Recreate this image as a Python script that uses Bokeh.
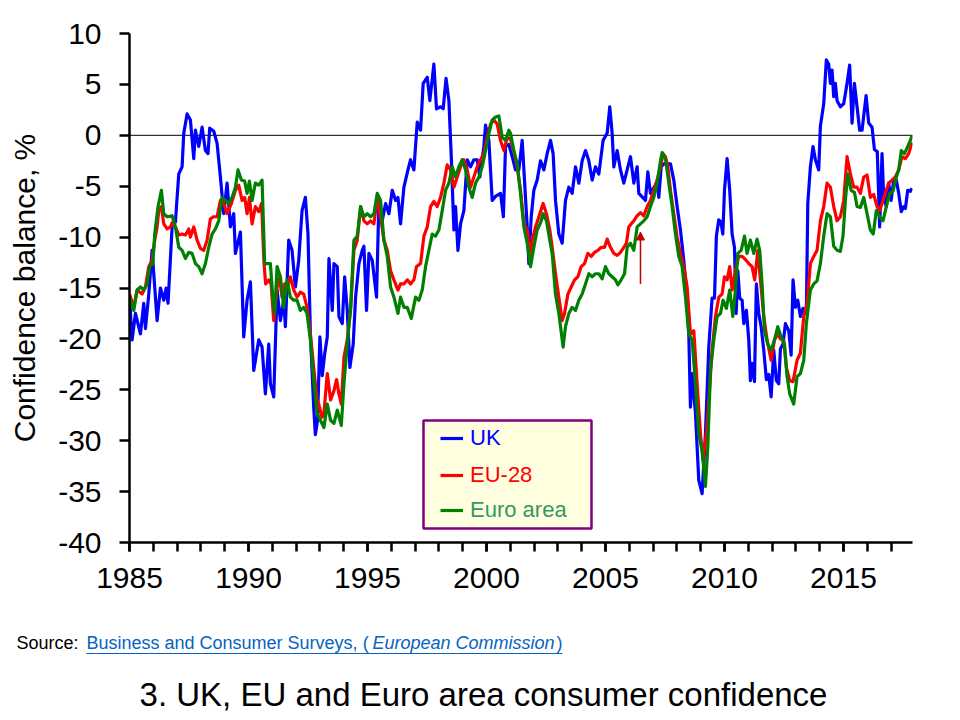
from bokeh.plotting import figure
from bokeh.layouts import column
from bokeh.models import (Range1d, FixedTicker, Span, Label, Legend, LegendItem,
                          BoxAnnotation, Arrow, NormalHead, ColumnDataSource)
from bokeh.embed import file_html
from bokeh.resources import INLINE

# ---------------- data (decimal year, balance %) ----------------
uk = [(1985.0, -15.9), (1985.11, -20.1), (1985.25, -17.5), (1985.46, -19.5), (1985.6, -16.5),
      (1985.67, -19.0), (1985.81, -15.6), (1985.95, -11.3), (1986.16, -18.2), (1986.3, -15.0),
      (1986.44, -16.2), (1986.54, -15.0), (1986.62, -16.5), (1986.79, -9.0), (1986.93, -8.5),
      (1987.07, -3.8), (1987.21, -3.1), (1987.28, 0.2), (1987.42, 2.1), (1987.56, 1.5),
      (1987.7, -2.3), (1987.77, 0.5), (1987.91, -1.1), (1988.05, 0.8), (1988.19, -1.5),
      (1988.3, -1.8), (1988.37, 0.7), (1988.54, 0.4), (1988.68, -0.8), (1988.82, -4.1),
      (1988.96, -7.7), (1989.1, -4.7), (1989.24, -9.0), (1989.38, -7.7), (1989.45, -11.6),
      (1989.66, -9.5), (1989.8, -19.8), (1989.94, -16.2), (1990.08, -14.4), (1990.22, -23.1),
      (1990.43, -20.1), (1990.57, -20.8), (1990.71, -25.4), (1990.85, -20.5), (1990.92, -24.4),
      (1991.06, -25.7), (1991.2, -15.2), (1991.34, -18.2), (1991.48, -16.2), (1991.55, -18.8),
      (1991.69, -10.3), (1991.83, -11.3), (1991.97, -14.9), (1992.11, -12.3), (1992.25, -7.4),
      (1992.39, -6.1), (1992.5, -9.7), (1992.6, -19.5), (1992.74, -26.7), (1992.81, -29.4),
      (1992.9, -28.0), (1993.0, -19.8), (1993.1, -23.6), (1993.2, -21.5), (1993.31, -19.8),
      (1993.38, -12.1), (1993.52, -17.2), (1993.59, -12.6), (1993.73, -12.9), (1993.8, -17.8),
      (1993.94, -18.5), (1994.04, -13.9), (1994.15, -17.2), (1994.26, -22.8), (1994.4, -20.5),
      (1994.5, -15.9), (1994.64, -12.6), (1994.78, -11.3), (1994.85, -10.9), (1994.96, -17.2),
      (1995.06, -11.6), (1995.2, -12.3), (1995.38, -15.9), (1995.48, -6.4), (1995.62, -8.4),
      (1995.76, -6.7), (1995.9, -7.7), (1996.04, -5.4), (1996.18, -6.4), (1996.28, -6.1),
      (1996.39, -8.7), (1996.53, -5.1), (1996.7, -3.4), (1996.81, -2.4), (1996.95, -3.4),
      (1997.09, 1.3), (1997.23, 0.5), (1997.34, 5.1), (1997.51, 5.7), (1997.62, 3.4),
      (1997.79, 7.0), (1997.9, 2.6), (1998.07, 2.8), (1998.18, 2.6), (1998.3, 5.6),
      (1998.42, 3.4), (1998.52, -2.1), (1998.63, -9.3), (1998.7, -7.0), (1998.8, -11.3),
      (1998.91, -8.7), (1999.05, -7.4), (1999.19, -2.4), (1999.33, -3.1), (1999.47, -2.4),
      (1999.61, -2.4), (1999.72, -4.1), (1999.89, -1.1), (1999.96, 1.0), (2000.1, -0.5),
      (2000.24, -6.4), (2000.38, -6.0), (2000.59, -5.7), (2000.71, -8.0), (2000.8, -1.1),
      (2000.94, -0.9), (2001.08, -2.1), (2001.22, -3.4), (2001.36, -3.4), (2001.5, -0.5),
      (2001.71, -9.0), (2001.78, -12.6), (2001.88, -8.0), (2001.99, -5.4), (2002.13, -4.4),
      (2002.27, -2.5), (2002.41, -3.4), (2002.55, -1.8), (2002.69, -0.5), (2002.8, -1.8),
      (2002.9, -6.4), (2003.04, -9.7), (2003.18, -10.6), (2003.32, -6.4), (2003.46, -5.1),
      (2003.6, -5.7), (2003.74, -3.1), (2003.88, -4.7), (2004.02, -2.5), (2004.16, -1.5),
      (2004.3, -2.5), (2004.44, -4.4), (2004.58, -3.1), (2004.72, -3.8), (2004.9, -0.5),
      (2005.07, 0.2), (2005.18, 2.8), (2005.28, 0.2), (2005.35, -3.1), (2005.49, -1.5),
      (2005.63, -3.4), (2005.77, -4.7), (2006.05, -2.1), (2006.19, -4.7), (2006.33, -3.1),
      (2006.4, -5.7), (2006.68, -6.4), (2006.78, -3.6), (2006.89, -5.7), (2007.17, -4.6),
      (2007.24, -6.1), (2007.34, -3.1), (2007.45, -2.8), (2007.73, -2.8), (2007.87, -4.4),
      (2008.01, -7.0), (2008.15, -9.3), (2008.29, -12.3), (2008.4, -15.2), (2008.5, -19.5),
      (2008.57, -26.7), (2008.64, -23.4), (2008.78, -27.3), (2008.92, -33.9), (2009.06, -35.2),
      (2009.2, -29.3), (2009.34, -20.8), (2009.48, -16.0), (2009.58, -16.0), (2009.66, -9.9),
      (2009.76, -8.3), (2009.85, -8.5), (2009.93, -9.7), (2010.0, -5.4), (2010.11, -2.3),
      (2010.22, -5.4), (2010.32, -9.7), (2010.42, -11.0), (2010.49, -17.5), (2010.56, -13.3),
      (2010.64, -16.0), (2010.74, -16.2), (2010.81, -18.5), (2010.92, -17.2), (2011.02, -20.1),
      (2011.09, -24.1), (2011.16, -22.4), (2011.26, -24.2), (2011.34, -14.6), (2011.44, -17.5),
      (2011.54, -18.8), (2011.65, -21.1), (2011.76, -24.0), (2011.86, -23.5), (2011.96, -25.7),
      (2012.07, -21.1), (2012.18, -24.1), (2012.28, -24.4), (2012.35, -21.0), (2012.46, -20.5),
      (2012.56, -18.5), (2012.7, -19.2), (2012.8, -21.6), (2012.88, -14.2), (2012.98, -16.9),
      (2013.08, -16.2), (2013.19, -17.8), (2013.3, -17.0), (2013.44, -17.5), (2013.5, -6.7),
      (2013.61, -3.1), (2013.72, -1.1), (2013.82, -2.4), (2013.96, -3.4), (2014.03, 0.9),
      (2014.17, 3.1), (2014.28, 7.4), (2014.38, 7.0), (2014.45, 5.1), (2014.52, 6.4),
      (2014.59, 3.8), (2014.66, 5.1), (2014.73, 3.4), (2014.87, 2.8), (2015.01, 3.1),
      (2015.15, 5.1), (2015.26, 6.9), (2015.36, 1.2), (2015.46, 5.1), (2015.57, 2.8),
      (2015.68, 0.5), (2015.78, 0.5), (2015.88, 2.5), (2015.95, 3.9), (2016.06, 1.2),
      (2016.2, 0.8), (2016.3, -1.4), (2016.42, -1.6), (2016.52, -9.0), (2016.62, -1.8),
      (2016.69, -6.1), (2016.8, -7.0), (2016.9, -4.7), (2017.0, -6.4), (2017.11, -4.4),
      (2017.22, -4.4), (2017.32, -5.7), (2017.43, -7.5), (2017.53, -7.0), (2017.6, -7.2),
      (2017.7, -5.4), (2017.81, -5.5), (2017.88, -5.2)]

eu28 = [(1985.0, -15.6), (1985.18, -16.9), (1985.32, -15.2), (1985.53, -15.6), (1985.67, -14.9),
        (1985.81, -12.9), (1985.95, -12.3), (1986.06, -10.3), (1986.16, -9.0), (1986.23, -7.4),
        (1986.34, -7.0), (1986.44, -8.7), (1986.58, -9.2), (1986.72, -9.0), (1986.79, -8.6),
        (1986.93, -9.0), (1987.07, -9.8), (1987.21, -9.7), (1987.35, -9.8), (1987.49, -9.2),
        (1987.56, -10.0), (1987.7, -9.0), (1987.84, -10.3), (1987.98, -11.1), (1988.12, -11.3),
        (1988.26, -10.3), (1988.4, -8.2), (1988.54, -8.0), (1988.68, -8.0), (1988.82, -6.4),
        (1988.96, -6.7), (1989.1, -7.7), (1989.28, -6.7), (1989.45, -5.4), (1989.59, -4.9),
        (1989.73, -6.4), (1989.84, -6.1), (1989.94, -7.7), (1990.04, -6.1), (1990.15, -8.7),
        (1990.29, -7.0), (1990.43, -7.5), (1990.55, -6.7), (1990.65, -12.5), (1990.72, -14.6),
        (1990.85, -14.2), (1990.95, -14.6), (1991.06, -18.2), (1991.2, -14.9), (1991.3, -14.0),
        (1991.41, -15.9), (1991.52, -14.6), (1991.62, -15.0), (1991.76, -13.9), (1991.9, -15.2),
        (1992.04, -15.9), (1992.18, -15.4), (1992.32, -15.6), (1992.46, -16.9), (1992.6, -19.5),
        (1992.74, -22.8), (1992.88, -26.0), (1992.95, -26.4), (1993.09, -27.7), (1993.17, -27.3),
        (1993.31, -23.4), (1993.45, -26.0), (1993.59, -25.1), (1993.7, -24.0), (1993.8, -25.4),
        (1993.9, -26.4), (1994.01, -21.8), (1994.15, -20.1), (1994.29, -17.2), (1994.43, -11.3),
        (1994.57, -10.3), (1994.71, -7.0), (1994.85, -8.4), (1994.99, -8.7), (1995.13, -8.4),
        (1995.27, -8.7), (1995.41, -6.1), (1995.55, -8.0), (1995.69, -10.3), (1995.83, -11.3),
        (1995.97, -13.3), (1996.11, -14.2), (1996.28, -15.2), (1996.39, -14.6), (1996.53, -14.6),
        (1996.67, -14.2), (1996.81, -14.6), (1996.95, -14.2), (1997.06, -12.9), (1997.23, -12.6),
        (1997.37, -9.9), (1997.51, -9.0), (1997.65, -7.0), (1997.79, -6.5), (1997.93, -7.0),
        (1998.07, -6.1), (1998.21, -4.7), (1998.35, -2.9), (1998.49, -3.4), (1998.63, -5.1),
        (1998.77, -4.1), (1998.91, -3.1), (1999.05, -2.4), (1999.19, -3.4), (1999.33, -5.1),
        (1999.47, -4.1), (1999.61, -3.1), (1999.75, -2.4), (1999.89, -1.8), (2000.03, -0.2),
        (2000.17, 1.1), (2000.31, 1.5), (2000.45, 1.1), (2000.59, -0.5), (2000.73, -1.5),
        (2000.87, -0.2), (2001.01, -0.4), (2001.15, -1.6), (2001.29, -3.1), (2001.43, -5.4),
        (2001.57, -8.7), (2001.71, -9.3), (2001.82, -11.9), (2001.92, -10.3), (2002.06, -9.0),
        (2002.2, -8.0), (2002.38, -6.7), (2002.52, -7.7), (2002.66, -9.3), (2002.76, -11.0),
        (2002.9, -13.6), (2003.04, -15.9), (2003.18, -18.2), (2003.28, -17.5), (2003.42, -15.6),
        (2003.56, -14.9), (2003.7, -14.2), (2003.84, -13.9), (2003.98, -12.9), (2004.12, -12.6),
        (2004.26, -11.6), (2004.4, -11.9), (2004.54, -11.5), (2004.68, -11.3), (2004.82, -11.0),
        (2004.96, -11.0), (2005.07, -10.2), (2005.21, -11.0), (2005.35, -11.6), (2005.49, -11.8),
        (2005.63, -11.5), (2005.77, -11.0), (2005.88, -10.6), (2005.98, -9.0), (2006.08, -8.7),
        (2006.19, -8.4), (2006.33, -7.9), (2006.47, -7.6), (2006.61, -7.9), (2006.75, -7.0),
        (2006.89, -6.4), (2007.03, -5.4), (2007.17, -4.4), (2007.31, -3.1), (2007.42, -1.8),
        (2007.52, -2.1), (2007.62, -3.1), (2007.73, -5.4), (2007.87, -7.7), (2008.01, -10.0),
        (2008.15, -11.6), (2008.29, -12.9), (2008.43, -14.9), (2008.57, -19.5), (2008.71, -19.2),
        (2008.85, -24.4), (2008.99, -29.3), (2009.1, -31.9), (2009.24, -29.3), (2009.38, -24.7),
        (2009.48, -21.1), (2009.62, -17.8), (2009.76, -15.9), (2009.9, -15.6), (2010.0, -13.9),
        (2010.11, -14.2), (2010.22, -12.9), (2010.32, -15.2), (2010.46, -13.3), (2010.6, -11.9),
        (2010.74, -11.9), (2010.88, -12.2), (2011.02, -12.6), (2011.16, -12.9), (2011.27, -14.2),
        (2011.4, -11.3), (2011.51, -14.2), (2011.65, -17.8), (2011.79, -20.1), (2011.96, -22.1),
        (2012.1, -20.1), (2012.24, -19.5), (2012.35, -20.0), (2012.49, -20.1), (2012.6, -22.8),
        (2012.74, -24.1), (2012.88, -24.2), (2013.05, -22.1), (2013.19, -21.4), (2013.33, -17.8),
        (2013.47, -16.5), (2013.61, -12.6), (2013.75, -11.9), (2013.89, -11.3), (2014.03, -8.4),
        (2014.17, -7.0), (2014.31, -4.7), (2014.45, -5.1), (2014.59, -7.0), (2014.73, -8.4),
        (2014.87, -8.0), (2015.01, -6.4), (2015.15, -2.1), (2015.29, -3.8), (2015.43, -5.1),
        (2015.57, -5.1), (2015.71, -5.7), (2015.85, -4.1), (2015.99, -3.9), (2016.13, -6.1),
        (2016.27, -5.8), (2016.41, -7.0), (2016.52, -7.4), (2016.62, -6.7), (2016.76, -5.7),
        (2016.9, -4.7), (2017.04, -4.4), (2017.18, -4.1), (2017.32, -3.4), (2017.46, -2.1),
        (2017.6, -2.3), (2017.74, -1.8), (2017.88, -0.7)]

euro_area = [(1985.0, -15.9), (1985.18, -17.2), (1985.32, -15.2), (1985.46, -14.9), (1985.6, -15.2),
             (1985.74, -14.6), (1985.84, -12.9), (1985.98, -12.6), (1986.06, -9.7), (1986.2, -7.0),
             (1986.34, -5.4), (1986.44, -7.7), (1986.58, -8.0), (1986.79, -7.9), (1986.93, -9.0),
             (1987.07, -11.0), (1987.21, -11.3), (1987.35, -12.1), (1987.49, -11.5), (1987.63, -11.6),
             (1987.77, -12.6), (1987.91, -12.9), (1988.05, -13.6), (1988.19, -12.6), (1988.33, -11.0),
             (1988.47, -9.7), (1988.61, -9.2), (1988.75, -8.4), (1988.89, -6.1), (1989.03, -6.4),
             (1989.17, -6.7), (1989.31, -6.1), (1989.45, -5.1), (1989.56, -3.4), (1989.7, -4.4),
             (1989.84, -4.5), (1989.94, -5.7), (1990.04, -4.5), (1990.15, -6.4), (1990.29, -4.7),
             (1990.43, -4.9), (1990.57, -4.4), (1990.68, -12.6), (1990.78, -12.6), (1990.92, -12.6),
             (1991.02, -15.9), (1991.1, -17.5), (1991.2, -12.9), (1991.34, -13.9), (1991.48, -16.9),
             (1991.62, -14.2), (1991.76, -15.9), (1991.9, -16.2), (1992.04, -16.2), (1992.18, -17.2),
             (1992.32, -16.9), (1992.46, -17.5), (1992.6, -20.1), (1992.74, -24.0), (1992.88, -27.3),
             (1993.02, -28.0), (1993.17, -28.7), (1993.31, -26.4), (1993.45, -28.0), (1993.59, -28.3),
             (1993.73, -27.0), (1993.9, -28.5), (1994.01, -24.4), (1994.15, -20.5), (1994.29, -16.9),
             (1994.43, -10.3), (1994.57, -9.9), (1994.71, -7.0), (1994.85, -8.0), (1994.99, -7.7),
             (1995.13, -8.0), (1995.27, -7.7), (1995.41, -5.7), (1995.55, -6.4), (1995.69, -10.3),
             (1995.83, -11.9), (1995.97, -14.9), (1996.11, -15.9), (1996.28, -17.5), (1996.39, -15.9),
             (1996.53, -16.9), (1996.67, -16.9), (1996.84, -18.0), (1997.02, -15.9), (1997.16, -16.2),
             (1997.3, -15.2), (1997.44, -12.9), (1997.58, -11.3), (1997.72, -9.7), (1997.86, -9.9),
             (1998.0, -9.3), (1998.14, -7.4), (1998.28, -5.4), (1998.42, -4.7), (1998.56, -3.1),
             (1998.7, -4.1), (1998.84, -3.1), (1998.98, -2.4), (1999.12, -3.4), (1999.26, -5.1),
             (1999.4, -6.1), (1999.54, -4.7), (1999.68, -4.1), (1999.82, -3.1), (1999.96, -1.5),
             (2000.1, 0.2), (2000.24, 1.5), (2000.38, 1.8), (2000.52, 1.9), (2000.66, -0.2),
             (2000.8, -0.5), (2000.94, 0.5), (2001.01, 0.2), (2001.15, -1.5), (2001.29, -2.8),
             (2001.43, -5.7), (2001.57, -9.0), (2001.71, -10.6), (2001.85, -12.9), (2001.99, -11.0),
             (2002.13, -9.3), (2002.27, -8.6), (2002.38, -7.7), (2002.52, -8.4), (2002.66, -10.3),
             (2002.76, -11.6), (2002.9, -15.6), (2003.04, -17.5), (2003.22, -20.8), (2003.32, -18.8),
             (2003.46, -17.5), (2003.6, -16.9), (2003.74, -17.2), (2003.88, -16.2), (2004.02, -15.6),
             (2004.16, -14.6), (2004.3, -13.6), (2004.44, -13.9), (2004.58, -13.6), (2004.72, -13.6),
             (2004.86, -14.1), (2005.0, -12.9), (2005.14, -13.6), (2005.28, -13.9), (2005.42, -14.2),
             (2005.52, -14.7), (2005.66, -14.2), (2005.8, -13.6), (2005.91, -11.0), (2006.05, -10.6),
             (2006.19, -11.3), (2006.33, -9.0), (2006.47, -8.7), (2006.61, -8.4), (2006.75, -8.0),
             (2006.89, -7.0), (2007.03, -6.1), (2007.17, -4.7), (2007.31, -2.5), (2007.38, -1.7),
             (2007.52, -2.3), (2007.66, -4.7), (2007.8, -7.0), (2007.94, -9.7), (2008.08, -11.9),
             (2008.22, -12.9), (2008.36, -15.9), (2008.5, -19.5), (2008.64, -20.1), (2008.78, -24.4),
             (2008.92, -29.3), (2009.06, -31.0), (2009.2, -34.5), (2009.3, -30.6), (2009.41, -23.1),
             (2009.55, -20.1), (2009.69, -17.8), (2009.83, -17.5), (2009.94, -16.2), (2010.08, -17.0),
             (2010.22, -15.2), (2010.35, -17.8), (2010.46, -15.2), (2010.56, -11.6), (2010.7, -11.3),
             (2010.84, -9.9), (2010.95, -11.6), (2011.09, -10.3), (2011.23, -11.6), (2011.37, -10.2),
             (2011.48, -11.3), (2011.58, -14.6), (2011.68, -19.2), (2011.82, -20.5), (2011.96, -21.1),
             (2012.1, -20.1), (2012.24, -18.8), (2012.38, -19.8), (2012.52, -20.5), (2012.63, -23.7),
             (2012.74, -25.4), (2012.91, -26.4), (2013.05, -23.7), (2013.19, -23.4), (2013.33, -22.1),
             (2013.44, -18.5), (2013.61, -15.2), (2013.75, -14.6), (2013.89, -14.3), (2014.03, -12.6),
             (2014.17, -9.9), (2014.31, -7.7), (2014.45, -8.0), (2014.59, -10.9), (2014.73, -11.3),
             (2014.87, -11.4), (2014.98, -9.9), (2015.08, -6.4), (2015.18, -3.8), (2015.32, -5.4),
             (2015.46, -5.6), (2015.57, -7.0), (2015.71, -7.1), (2015.85, -6.1), (2015.99, -7.7),
             (2016.13, -9.3), (2016.25, -9.7), (2016.38, -7.4), (2016.52, -8.0), (2016.66, -8.4),
             (2016.8, -7.0), (2016.94, -5.7), (2017.08, -5.5), (2017.22, -4.1), (2017.32, -3.4),
             (2017.43, -1.5), (2017.56, -1.8), (2017.7, -1.1), (2017.81, -0.5), (2017.88, 0.0)]

series_names = ["UK", "EU-28", "Euro area"]
line_colors = ["#0000FF", "#FF0000", "#008000"]
label_colors = ["#0000FF", "#FF0000", "#339966"]

x_major_ticks = [1985, 1990, 1995, 2000, 2005, 2010, 2015]
x_minor_ticks = list(range(1985, 2018))
y_ticks = [-40, -35, -30, -25, -20, -15, -10, -5, 0, 5, 10]
y_tick_labels = ["-40", "-35", "-30", "-25", "-20", "-15", "-10", "-5", "0", "5", "10"]

arrow_year, arrow_from, arrow_to = 2006.47, -14.6, -9.5

title_text = "3. UK, EU and Euro area consumer confidence"
source_prefix = "Source:"
source_link = "Business and Consumer Surveys, ("
source_link_italic = "European Commission"
source_link_end = ")"

# ---------------- geometry (page pixels; the page shows the canvas at 0,0) ----------------
X0, X1 = 1985.0, 2017.9
Y0, Y1 = -40.0, 10.0
FRAME_L, FRAME_R, FRAME_T, FRAME_B = 129, 912, 33, 542
W = 960
H1 = 600          # chart figure (page y 0 .. 600)
H2 = 118          # caption figure (page y 600 .. 718)
P2_TOP = H1


def px_x(px):
    return X0 + (px - FRAME_L) * (X1 - X0) / (FRAME_R - FRAME_L)


def px_y(py):
    return Y1 - (py - FRAME_T) * (Y1 - Y0) / (FRAME_B - FRAME_T)


# ---------------- chart ----------------
p = figure(width=W, height=H1, output_backend="svg", toolbar_location=None,
           x_range=Range1d(X0, X1), y_range=Range1d(Y0, Y1),
           min_border_left=FRAME_L, min_border_right=W - FRAME_R,
           min_border_top=FRAME_T, min_border_bottom=H1 - FRAME_B)
p.frame_align = False
p.outline_line_color = None
p.xgrid.grid_line_color = None
p.ygrid.grid_line_color = None
p.background_fill_color = "white"
p.border_fill_color = "white"

p.add_layout(Span(location=0, dimension="width", line_color="black", line_width=1, level="underlay"))

renderers = []
for data, color in zip([uk, eu28, euro_area], line_colors):
    src = ColumnDataSource(dict(x=[d[0] for d in data], y=[d[1] for d in data]))
    r = p.line("x", "y", source=src, line_color=color, line_width=3.2, line_join="round")
    renderers.append(r)

font = "Liberation Sans"
xa = p.xaxis[0]
xa.ticker = FixedTicker(ticks=x_major_ticks, minor_ticks=x_minor_ticks)
xa.major_label_overrides = {t: str(t) for t in x_major_ticks}
xa.axis_line_width = 2.5
xa.major_tick_line_width = 2.5
xa.minor_tick_line_width = 2.5
xa.minor_tick_line_color = "black"
xa.major_tick_out = 9
xa.major_tick_in = 0
xa.minor_tick_out = 9
xa.minor_tick_in = 0
xa.major_label_text_font = font
xa.major_label_text_font_size = "30px"
xa.major_label_text_color = "black"
xa.major_label_standoff = 16

ya = p.yaxis[0]
ya.ticker = FixedTicker(ticks=y_ticks, minor_ticks=[])
ya.major_label_overrides = {t: s for t, s in zip(y_ticks, y_tick_labels)}
ya.axis_line_width = 2.5
ya.major_tick_line_width = 2.5
ya.major_tick_out = 10
ya.major_tick_in = 0
ya.minor_tick_line_color = None
ya.major_label_text_font = font
ya.major_label_text_font_size = "30px"
ya.major_label_text_color = "black"
ya.major_label_standoff = 18
ya.axis_label = "Confidence balance, %"
ya.axis_label_text_font = font
ya.axis_label_text_font_size = "30px"
ya.axis_label_text_font_style = "normal"
ya.axis_label_text_color = "black"
ya.axis_label_standoff = 14

# legend box and entries
p.add_layout(BoxAnnotation(left=px_x(423), right=px_x(591), top=px_y(420), bottom=px_y(528),
                           fill_color="#FFFFE0", fill_alpha=1, line_color="#800080",
                           line_alpha=1, line_width=2.5, level="underlay"))
legend_centres = [438, 475, 510]
for name, r, lc, cy_ in zip(series_names, renderers, label_colors, legend_centres):
    leg = Legend(items=[LegendItem(label=name, renderers=[r])],
                 location=(440 - FRAME_L, FRAME_B - cy_ - 13),
                 padding=0, margin=0, spacing=0, glyph_width=23, glyph_height=26,
                 label_height=26, label_standoff=7,
                 label_text_font=font, label_text_font_size="22px", label_text_color=lc,
                 background_fill_alpha=0, border_line_alpha=0)
    p.add_layout(leg)

p.add_layout(Arrow(end=NormalHead(size=8, fill_color="#C00000", line_color="#C00000"),
                   x_start=arrow_year, y_start=arrow_from, x_end=arrow_year, y_end=arrow_to,
                   line_color="#C00000", line_width=1.5))

# ---------------- caption figure (source + title), coordinates = page pixels ----------------
c = figure(width=W, height=H2, output_backend="svg", toolbar_location=None,
           x_range=Range1d(0, W), y_range=Range1d(P2_TOP + H2, P2_TOP),
           x_axis_type=None, y_axis_type=None,
           min_border=0, min_border_left=0, min_border_right=0,
           min_border_top=0, min_border_bottom=0)
c.frame_align = False
c.outline_line_color = None
c.xgrid.grid_line_color = None
c.ygrid.grid_line_color = None
c.background_fill_color = "white"
c.border_fill_color = "white"

link_color = "#0563C1"
src_size = "18px"
src_mid = 642
c.add_layout(Label(x=16, y=src_mid, text=source_prefix, text_font=font,
                   text_font_size=src_size, text_color="black", text_baseline="middle"))
c.add_layout(Label(x=86, y=src_mid, text=source_link, text_font=font,
                   text_font_size=src_size, text_color=link_color, text_baseline="middle"))
c.add_layout(Label(x=372, y=src_mid, text=source_link_italic, text_font=font,
                   text_font_size=src_size, text_font_style="italic", text_color=link_color,
                   text_baseline="middle"))
c.add_layout(Label(x=556, y=src_mid, text=source_link_end, text_font=font,
                   text_font_size=src_size, text_color=link_color, text_baseline="middle"))
c.add_layout(Arrow(start=None, end=None, x_start=86, y_start=653, x_end=562, y_end=653,
                   line_color=link_color, line_width=1.2))

c.add_layout(Label(x=483, y=694, text=title_text, text_font=font,
                   text_font_size="33px", text_color="black", text_align="center",
                   text_baseline="middle"))

layout = column(p, c, spacing=0)
open("out.html", "w").write(file_html(layout, INLINE, title="UK, EU and Euro area consumer confidence"))
